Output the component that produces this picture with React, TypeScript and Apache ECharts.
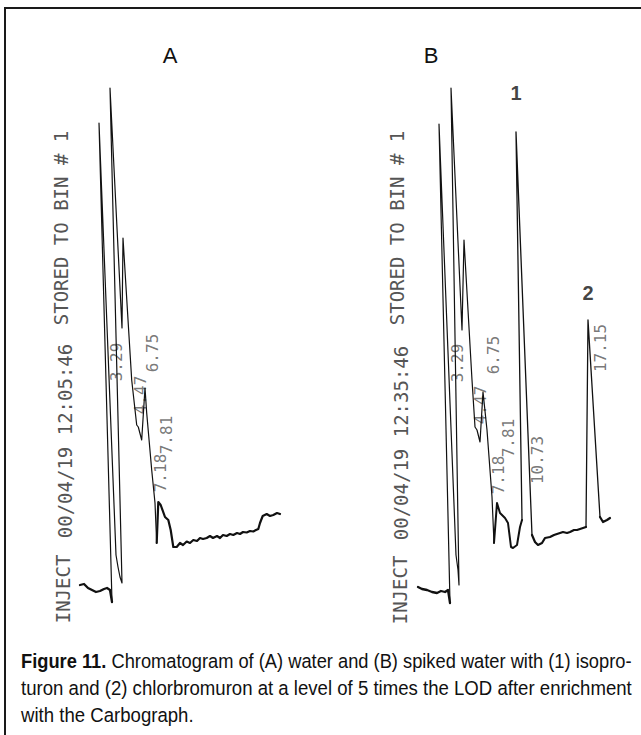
import React, { useEffect, useRef } from "react";
import * as echarts from "echarts";

const W = 641;
const H = 735;

// ---- Panel A trace: [chart position, detector signal] ----
const traceAInject = [
  [4.0, 7.0], [4.4, 7.2], [4.8, 6.4], [5.2, 6.0], [5.6, 5.6], [6.0, 5.8],
  [6.4, 6.2], [6.7, 6.4], [7.0, 6.0], [7.2, 3.6],
];
const traceAPeaks = [
  [7.2, 3.6], [5.9, 99.4], [7.6, 13.0], [7.8, 10.6], [8.0, 8.6], [8.2, 7.4],
  [7.0, 106.4], [8.2, 58.4], [8.3, 76.4], [9.17, 48.0], [9.67, 39.0], [9.83, 38.6],
  [10.17, 36.0], [10.5, 46.4], [10.67, 41.4], [11.17, 30.0], [11.5, 23.4], [11.67, 15.4],
];
const traceATail = [
  [11.67, 15.4], [11.83, 23.6], [12.07, 23.0], [12.5, 20.6], [12.83, 20.0], [13.07, 18.0],
  [13.33, 14.6], [13.67, 14.6], [14.0, 15.4], [14.3, 15.0], [14.67, 15.7], [15.0, 15.4],
  [15.33, 16.0], [15.7, 15.8], [16.0, 16.4], [16.3, 16.2], [16.67, 16.4], [17.0, 16.8],
  [17.3, 16.4], [17.7, 16.8], [18.0, 16.4], [18.3, 17.0], [18.67, 16.8], [19.0, 17.2],
  [19.33, 17.0], [19.7, 17.4], [20.0, 17.2], [20.3, 17.6], [20.67, 17.5], [21.0, 17.8],
  [21.33, 17.7], [21.6, 18.0], [21.83, 18.2], [22.0, 19.4], [22.27, 20.8], [22.67, 21.2],
  [23.0, 20.8], [23.33, 21.0], [23.7, 21.4], [24.0, 21.2],
];

// ---- Panel B trace ----
const traceBInject = [
  [5.8, 6.6], [6.2, 6.2], [6.7, 6.0], [7.2, 5.6], [7.7, 5.4], [8.1, 5.8],
  [8.5, 5.6], [8.8, 6.0], [9.0, 3.4],
];
const traceBEarly = [
  [9.0, 3.4], [7.9, 99.2], [9.6, 13.0], [9.8, 10.0], [9.9, 7.0], [9.1, 106.4],
  [10.2, 58.0], [10.4, 76.0], [11.2, 48.0], [11.5, 38.6], [11.7, 38.0], [12.0, 35.6],
  [12.3, 45.6], [12.7, 38.0], [13.2, 24.6], [13.4, 15.4],
];
const traceBValley = [
  [13.4, 15.4], [13.7, 23.4], [14.0, 21.4], [14.5, 20.4], [14.8, 19.4], [15.1, 14.6],
  [15.3, 14.4], [15.7, 15.0], [16.0, 18.6], [16.2, 20.0],
];
const traceBPeak1 = [[16.2, 20.0], [15.6, 97.6], [17.2, 17.0]];
const traceBBase = [
  [17.2, 17.0], [17.5, 15.6], [17.8, 15.0], [18.2, 15.4], [18.5, 16.4], [19.0, 16.6],
  [19.4, 17.0], [19.7, 17.2], [20.0, 17.4], [20.3, 17.6], [20.7, 17.4], [21.0, 17.6],
  [21.4, 18.0], [21.7, 18.0], [22.0, 18.2], [22.3, 18.4], [22.6, 18.6],
];
const traceBPeak2 = [[22.6, 18.6], [22.8, 60.0], [24.0, 20.6]];
const traceBTail = [[24.0, 20.6], [24.3, 19.6], [24.7, 20.0], [25.0, 20.4]];

// ---- retention-time labels ----
const peakLabelsA = ["3.29", "4.47", "6.75", "7.18", "7.81"];
const peakPosA = [[7.6, 51.6], [10.0, 45.0], [11.2, 53.4], [12.0, 29.4], [12.6, 37.0]];
const peakLabelsB = ["3.29", "4.47", "6.75", "7.18", "7.81", "10.73", "17.15"];
const peakPosB = [[9.7, 51.4], [12.0, 43.0], [13.3, 53.0], [13.8, 29.0], [14.8, 36.4], [17.7, 32.0], [24.0, 54.4]];
const peakNumbers = ["1", "2"];
const peakNumberPos = [[15.6, 105.4], [22.8, 65.4]];

// ---- printer header texts ----
const headerA = ["STORED TO BIN # 1", "00/04/19 12:05:46", "INJECT"];
const headerB = ["STORED TO BIN # 1", "00/04/19 12:35:46", "INJECT"];
const panelTitles = ["A", "B"];
const captionBold = "Figure 11.";
const captionLines = [
  "Chromatogram of (A) water and (B) spiked water with (1) isopro-",
  "turon and (2) chlorbromuron at a level of 5 times the LOD after enrichment",
  "with the Carbograph.",
];

const MONO = "'DejaVu Sans Mono', 'Liberation Mono', monospace";
const CAP_FONT = "'Liberation Sans Narrow', 'Liberation Sans', Arial, sans-serif";

function measure(text: string, font: string): number {
  const c = document.createElement("canvas");
  const ctx = c.getContext("2d");
  if (!ctx) return text.length * 9;
  ctx.font = font;
  return ctx.measureText(text).width;
}

export default function App() {
  const ref = useRef<HTMLDivElement>(null);

  useEffect(() => {
    if (!ref.current) return;
    const chart = echarts.init(ref.current, undefined, { renderer: "svg", width: W, height: H });

    const lineSeries = (data: number[][], idx: number, width: number) => ({
      type: "line",
      xAxisIndex: idx,
      yAxisIndex: idx,
      data,
      showSymbol: false,
      symbol: "none",
      smooth: false,
      clip: false,
      silent: true,
      lineStyle: { color: "#111", width, join: "round", cap: "round" },
    });

    const labelSeries = (names: string[], pos: number[][], idx: number, font: any) => ({
      type: "scatter",
      xAxisIndex: idx,
      yAxisIndex: idx,
      symbolSize: 1,
      clip: false,
      silent: true,
      itemStyle: { color: "rgba(0,0,0,0)" },
      data: names.map((n, i) => ({ name: n, value: pos[i] })),
      label: {
        show: true,
        position: "inside",
        formatter: (p: any) => p.name,
        ...font,
      },
    });

    const headerFont = { fontFamily: MONO, fontSize: 19, fill: "#555555" };
    const headerPos = [
      [[61, 228], [65, 441], [63, 589]],
      [[397, 228], [401, 443], [400, 590]],
    ];
    const headerEls: any[] = [];
    [headerA, headerB].forEach((h, pi) => {
      h.forEach((t, i) => {
        headerEls.push({
          type: "text",
          x: headerPos[pi][i][0],
          y: headerPos[pi][i][1],
          rotation: Math.PI / 2,
          silent: true,
          style: { text: t, ...headerFont, textAlign: "center", textVerticalAlign: "middle", align: "center", verticalAlign: "middle" },
        });
      });
    });

    // caption layout (justified lines)
    const fs = 19.5;
    const capW = 611;
    const capX = 21;
    const fontBold = `bold ${fs}px ${CAP_FONT}`;
    const fontReg = `${fs}px ${CAP_FONT}`;
    const wb = measure(captionBold + " ", fontBold);
    const w1 = measure(captionLines[0], fontReg);
    const s1 = capW / (wb + w1);
    const w2 = measure(captionLines[1], fontReg);
    const s2 = capW / w2;
    const baselines = [668, 695, 722];
    const midOff = fs * 0.35;
    const capStyle = (bold: boolean) => ({
      fontFamily: CAP_FONT,
      fontSize: fs,
      fontWeight: bold ? "bold" : "normal",
      fill: "#111",
      textAlign: "left",
      align: "left",
      textVerticalAlign: "middle",
      verticalAlign: "middle",
    });
    const captionEls: any[] = [
      { type: "text", x: capX, y: baselines[0] - midOff, scaleX: s1, silent: true, style: { text: captionBold, ...capStyle(true) } },
      { type: "text", x: capX + wb * s1, y: baselines[0] - midOff, scaleX: s1, silent: true, style: { text: captionLines[0], ...capStyle(false) } },
      { type: "text", x: capX, y: baselines[1] - midOff, scaleX: s2, silent: true, style: { text: captionLines[1], ...capStyle(false) } },
      { type: "text", x: capX, y: baselines[2] - midOff, scaleX: s2, silent: true, style: { text: captionLines[2], ...capStyle(false) } },
    ];

    const titlePos = [[170, 55], [431, 55]];
    const titleEls = panelTitles.map((t, i) => ({
      type: "text",
      x: titlePos[i][0],
      y: titlePos[i][1],
      silent: true,
      style: {
        text: t, fontFamily: "'Liberation Sans', Arial, sans-serif", fontSize: 22, fill: "#111",
        textAlign: "center", align: "center", textVerticalAlign: "middle", verticalAlign: "middle",
      },
    }));

    const axisCommon = { show: false, splitLine: { show: false } };

    chart.setOption({
      animation: false,
      backgroundColor: "#ffffff",
      grid: [
        { left: 40, top: 80, width: 260, height: 540 },
        { left: 360, top: 80, width: 260, height: 540 },
      ],
      xAxis: [
        { type: "value", gridIndex: 0, min: 0, max: 26, ...axisCommon },
        { type: "value", gridIndex: 1, min: 0, max: 26, ...axisCommon },
      ],
      yAxis: [
        { type: "value", gridIndex: 0, min: 0, max: 108, ...axisCommon },
        { type: "value", gridIndex: 1, min: 0, max: 108, ...axisCommon },
      ],
      graphic: [
        {
          type: "rect",
          silent: true,
          shape: { x: 5, y: 8, width: 700, height: 800 },
          style: { fill: "none", stroke: "#1a1a1a", lineWidth: 2 },
        },
        ...titleEls,
        ...headerEls,
        ...captionEls,
      ],
      series: [
        lineSeries(traceAInject, 0, 2.3),
        lineSeries(traceAPeaks, 0, 1.2),
        lineSeries(traceATail, 0, 2.2),
        lineSeries(traceBInject, 1, 2.3),
        lineSeries(traceBEarly, 1, 1.2),
        lineSeries(traceBValley, 1, 2.0),
        lineSeries(traceBPeak1, 1, 1.3),
        lineSeries(traceBBase, 1, 2.2),
        lineSeries(traceBPeak2, 1, 1.3),
        lineSeries(traceBTail, 1, 2.2),
        labelSeries(peakLabelsA, peakPosA, 0, { rotate: 90, fontFamily: MONO, fontSize: 16, color: "#555" }),
        labelSeries(peakLabelsB, peakPosB, 1, { rotate: 90, fontFamily: MONO, fontSize: 16, color: "#555" }),
        labelSeries(peakNumbers, peakNumberPos, 1, { rotate: 0, fontFamily: "'Liberation Sans', Arial, sans-serif", fontWeight: "bold", fontSize: 20, color: "#111" }),
      ],
    });

    return () => chart.dispose();
  }, []);

  return (
    <div
      ref={ref}
      style={{ position: "fixed", left: 0, top: 0, width: W, height: H, background: "#fff" }}
    />
  );
}
